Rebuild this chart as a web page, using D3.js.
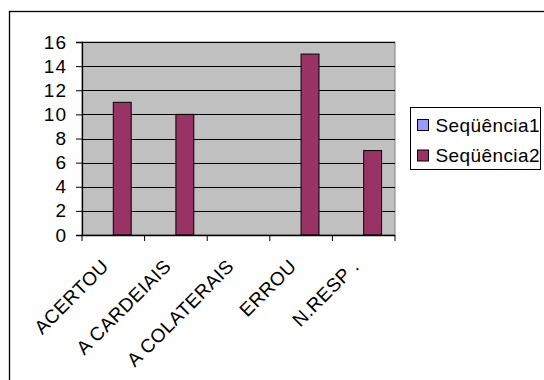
<!DOCTYPE html>
<html>
<head>
<meta charset="utf-8">
<script src="https://cdn.jsdelivr.net/npm/d3@7"></script>
<style>
  html, body { margin: 0; padding: 0; background: #fff; }
  svg { display: block; font-family: Arial, "Liberation Sans", sans-serif; }
</style>
</head>
<body>
<svg id="chart" width="544" height="380"></svg>
<script>
const categories = ["ACERTOU", "A CARDEIAIS", "A COLATERAIS", "ERROU", "N.RESP ."];
const seriesNames = ["Seqüência1", "Seqüência2"];
const seq1 = [0, 0, 0, 0, 0];
const seq2 = [11, 10, 0, 15, 7];
const yTicks = [0, 2, 4, 6, 8, 10, 12, 14, 16];
const colors = ["#9999FF", "#993366"];

const svg = d3.select("#chart");
const plot = { left: 82, right: 395, top: 42, bottom: 235 };

// outer chart border (extends beyond view on right/bottom)
svg.append("rect")
  .attr("x", 9.5).attr("y", 11.5)
  .attr("width", 600).attr("height", 600)
  .attr("fill", "#fff").attr("stroke", "#000").attr("stroke-width", 1.3);

const x = d3.scaleBand().domain(categories).range([plot.left, plot.right]).paddingInner(0).paddingOuter(0);
const y = d3.scaleLinear().domain([0, 16]).range([plot.bottom, plot.top]);

// plot area
svg.append("rect")
  .attr("x", plot.left).attr("y", plot.top)
  .attr("width", plot.right - plot.left).attr("height", plot.bottom - plot.top)
  .attr("fill", "#C0C0C0").attr("stroke", "#808080").attr("stroke-width", 1);

// gridlines
svg.append("g").selectAll("line").data(yTicks.filter(d => d > 0)).join("line")
  .attr("x1", plot.left).attr("x2", plot.right)
  .attr("y1", d => Math.round(y(d)) + 0.5).attr("y2", d => Math.round(y(d)) + 0.5)
  .attr("stroke", "#000").attr("stroke-width", 1);

// bars
const bw = x.bandwidth() / 3.5;
const data = categories.map((c, i) => ({ c, vals: [seq1[i], seq2[i]] }));
const gBars = svg.append("g");
data.forEach(d => {
  d.vals.forEach((v, s) => {
    if (v <= 0) return;
    gBars.append("rect")
      .attr("x", x(d.c) + 0.75 * bw + s * bw)
      .attr("y", y(v))
      .attr("width", bw)
      .attr("height", y(0) - y(v))
      .attr("fill", colors[s])
      .attr("stroke", "#000").attr("stroke-width", 1);
  });
});

// y axis
const yAxis = d3.axisLeft(y).tickValues(yTicks).tickSize(6).tickPadding(9).tickFormat(d3.format("d"));
const gy = svg.append("g").attr("transform", `translate(${plot.left},0)`).call(yAxis);
gy.select(".domain").attr("stroke", "#000").attr("stroke-width", 1.3);
gy.selectAll(".tick line").attr("stroke", "#000");
gy.selectAll("text").attr("font-size", 19).attr("letter-spacing", 1).attr("fill", "#000")
  .attr("font-family", "Arial, 'Liberation Sans', sans-serif");

// x axis
const xBoundaries = categories.map(c => x(c)).concat([plot.right]);
svg.append("line")
  .attr("x1", plot.left).attr("x2", plot.right)
  .attr("y1", plot.bottom + 0.5).attr("y2", plot.bottom + 0.5)
  .attr("stroke", "#000").attr("stroke-width", 1.3);
svg.append("g").selectAll("line").data(xBoundaries).join("line")
  .attr("x1", d => d).attr("x2", d => d)
  .attr("y1", plot.bottom).attr("y2", plot.bottom + 6)
  .attr("stroke", "#000").attr("stroke-width", 1);

svg.append("g").selectAll("text").data(categories).join("text")
  .attr("transform", d => `translate(${x(d) + x.bandwidth() / 2 - 13},${plot.bottom + 23}) rotate(-45)`)
  .attr("text-anchor", "end")
  .attr("dy", "0.71em")
  .attr("font-size", 19)
  .attr("letter-spacing", 0.5)
  .attr("fill", "#000")
  .text(d => d);

// legend
const lg = svg.append("g");
lg.append("rect")
  .attr("x", 410.5).attr("y", 107.5).attr("width", 130).attr("height", 62)
  .attr("fill", "#fff").attr("stroke", "#000").attr("stroke-width", 1);
seriesNames.forEach((n, i) => {
  const yy = 119 + i * 30.5;
  lg.append("rect")
    .attr("x", 417.5).attr("y", yy + 0.5).attr("width", 11).attr("height", 11)
    .attr("fill", colors[i]).attr("stroke", "#000").attr("stroke-width", 1);
  lg.append("text")
    .attr("x", 435.5).attr("y", yy + 12.5)
    .attr("font-size", 19).attr("letter-spacing", 0.4).attr("fill", "#000")
    .text(n);
});
</script>
</body>
</html>
